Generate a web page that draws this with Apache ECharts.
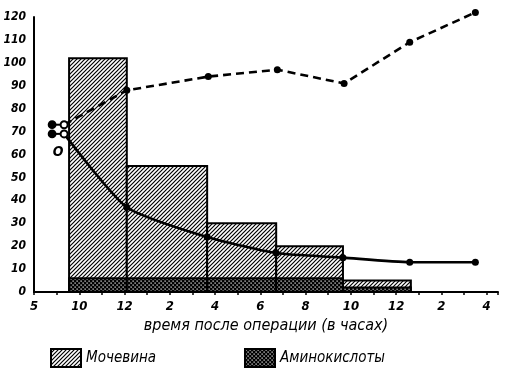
<!DOCTYPE html>
<html><head><meta charset="utf-8">
<script src="https://cdn.jsdelivr.net/npm/echarts@6/dist/echarts.min.js"></script>
<style>html,body{margin:0;padding:0;background:#fff}#c{width:507px;height:378px}</style>
</head><body><div id="c"></div>
<script>
// ---- data ----
const xTickValues = [8, 10, 12, 14, 16, 18, 20, 22, 24, 26, 28];
const xTickLabels = ['5', '10', '12', '2', '4', '6', '8', '10', '12', '2', '4'];
const barStart = [9.55, 12.1, 15.65, 18.7, 21.65];
const barEnd = [12.1, 15.65, 18.7, 21.65, 24.65];
const ureaValues = [102, 55, 30, 20, 5];
const aminoValues = [6, 6, 6, 6, 2];
const dashedX = [9.33, 12.1, 15.7, 18.75, 21.7, 24.6, 27.5];
const dashedY = [73, 88, 94, 97, 91, 109, 122];
const solidX = [9.33, 12.1, 15.65, 18.7, 21.65, 24.6, 27.5];
const solidY = [69, 37, 24, 17, 15, 13, 13];
const startX = [8.8, 9.33];
const startUpper = [73, 73];
const startLower = [69, 69];
const names = ['Мочевина', 'Аминокислоты'];
const axisTitle = 'время после операции (в часах)';

// ---- patterns ----
function makeHatch() {
  const c = document.createElement('canvas'); c.width = 4; c.height = 4;
  const g = c.getContext('2d');
  g.fillStyle = '#fff'; g.fillRect(0, 0, 4, 4);
  g.strokeStyle = '#000'; g.lineWidth = 1.2; g.beginPath();
  g.moveTo(-1, 5); g.lineTo(5, -1);
  g.moveTo(-1, 1); g.lineTo(1, -1);
  g.moveTo(3, 5); g.lineTo(5, 3);
  g.stroke();
  return c;
}
function makeCross() {
  const c = document.createElement('canvas'); c.width = 4; c.height = 4;
  const g = c.getContext('2d');
  g.fillStyle = '#000'; g.fillRect(0, 0, 4, 4);
  g.fillStyle = '#fff';
  g.fillRect(0.5, 0.5, 1.2, 1.2);
  g.fillRect(2.5, 2.5, 1.2, 1.2);
  return c;
}
const hatchFill = { image: makeHatch(), repeat: 'repeat' };
const crossFill = { image: makeCross(), repeat: 'repeat' };

const font = "'Liberation Sans Narrow', 'DejaVu Sans Condensed', 'DejaVu Sans', sans-serif";

function barRenderer(fill) {
  return function (params, api) {
    const p0 = api.coord([api.value(0), api.value(2)]);
    const p1 = api.coord([api.value(1), 0]);
    return {
      type: 'rect',
      shape: { x: p0[0], y: p0[1], width: p1[0] - p0[0], height: p1[1] - p0[1] },
      style: { fill: fill, stroke: '#000', lineWidth: 2 }
    };
  };
}
const ureaData = ureaValues.map((v, i) => [barStart[i], barEnd[i], v]);
const aminoData = aminoValues.map((v, i) => [barStart[i], barEnd[i], v]);

const chart = echarts.init(document.getElementById('c'), null, { renderer: 'canvas' });
chart.setOption({
  animation: false,
  backgroundColor: '#fff',
  grid: { left: 34, right: 9, top: 17, bottom: 86, containLabel: false },
  legend: {
    data: names, left: 45, top: 343, itemWidth: 30, itemHeight: 18, itemGap: 88,
    icon: 'rect',
    textStyle: { fontFamily: font, fontStyle: 'italic', fontSize: 15, color: '#000' }
  },
  xAxis: {
    type: 'value', min: 8, max: 28.5, interval: 1,
    name: axisTitle, nameLocation: 'middle', nameGap: 25,
    nameTextStyle: { fontFamily: font, fontStyle: 'italic', fontSize: 16, color: '#000' },
    axisLine: { show: true, lineStyle: { color: '#000', width: 2 } },
    axisTick: { show: true, length: 3, lineStyle: { color: '#000', width: 1.5 } },
    splitLine: { show: false },
    axisLabel: {
      margin: 8, color: '#000', fontFamily: font, fontStyle: 'italic', fontWeight: 'bold', fontSize: 13,
      formatter: v => { const i = xTickValues.indexOf(v); return i >= 0 ? xTickLabels[i] : ''; }
    }
  },
  yAxis: {
    type: 'value', min: 0, max: 120, interval: 10,
    axisLine: { show: true, lineStyle: { color: '#000', width: 2 } },
    axisTick: { show: false },
    splitLine: { show: false },
    axisLabel: { margin: 8, color: '#000', fontFamily: font, fontStyle: 'italic', fontWeight: 'bold', fontSize: 12 }
  },
  series: [
    {
      name: names[0], type: 'custom', renderItem: barRenderer(hatchFill),
      itemStyle: { color: hatchFill, borderColor: '#000', borderWidth: 1.5 },
      encode: { x: [0, 1], y: 2 }, data: ureaData, z: 2
    },
    {
      name: names[1], type: 'custom', renderItem: barRenderer(crossFill),
      itemStyle: { color: crossFill, borderColor: '#000', borderWidth: 1.5 },
      encode: { x: [0, 1], y: 2 }, data: aminoData, z: 3
    },
    {
      name: 'dashed', type: 'line', z: 5, clip: false,
      data: dashedX.map((x, i) => ({ value: [x, dashedY[i]], symbol: i === 0 ? 'none' : 'circle' })),
      symbolSize: 7, itemStyle: { color: '#000' },
      lineStyle: { color: '#000', width: 2.6, type: [8, 5] }
    },
    {
      name: 'solid', type: 'line', z: 5, smooth: 0.2, clip: false,
      data: solidX.map((x, i) => ({ value: [x, solidY[i]], symbol: i === 0 ? 'none' : 'circle' })),
      symbolSize: 7, itemStyle: { color: '#000' },
      lineStyle: { color: '#000', width: 2.6 }
    },
    {
      name: 'startUpper', type: 'line', z: 6, clip: false,
      data: startX.map((x, i) => ({ value: [x, startUpper[i]], symbol: i === 0 ? 'circle' : 'emptyCircle' })),
      symbolSize: 7, itemStyle: { color: '#000', borderColor: '#000', borderWidth: 1.8 },
      lineStyle: { color: '#000', width: 2 }
    },
    {
      name: 'startLower', type: 'line', z: 6, clip: false,
      data: startX.map((x, i) => ({
        value: [x, startLower[i]], symbol: i === 0 ? 'circle' : 'emptyCircle',
        label: i === 1 ? { show: true, position: 'bottom', offset: [-6, 2], formatter: 'O',
          fontFamily: font, fontStyle: 'italic', fontWeight: 'bold', fontSize: 14, color: '#000' } : undefined
      })),
      symbolSize: 7, itemStyle: { color: '#000', borderColor: '#000', borderWidth: 1.8 },
      lineStyle: { color: '#000', width: 2 }
    }
  ]
});
</script></body></html>
